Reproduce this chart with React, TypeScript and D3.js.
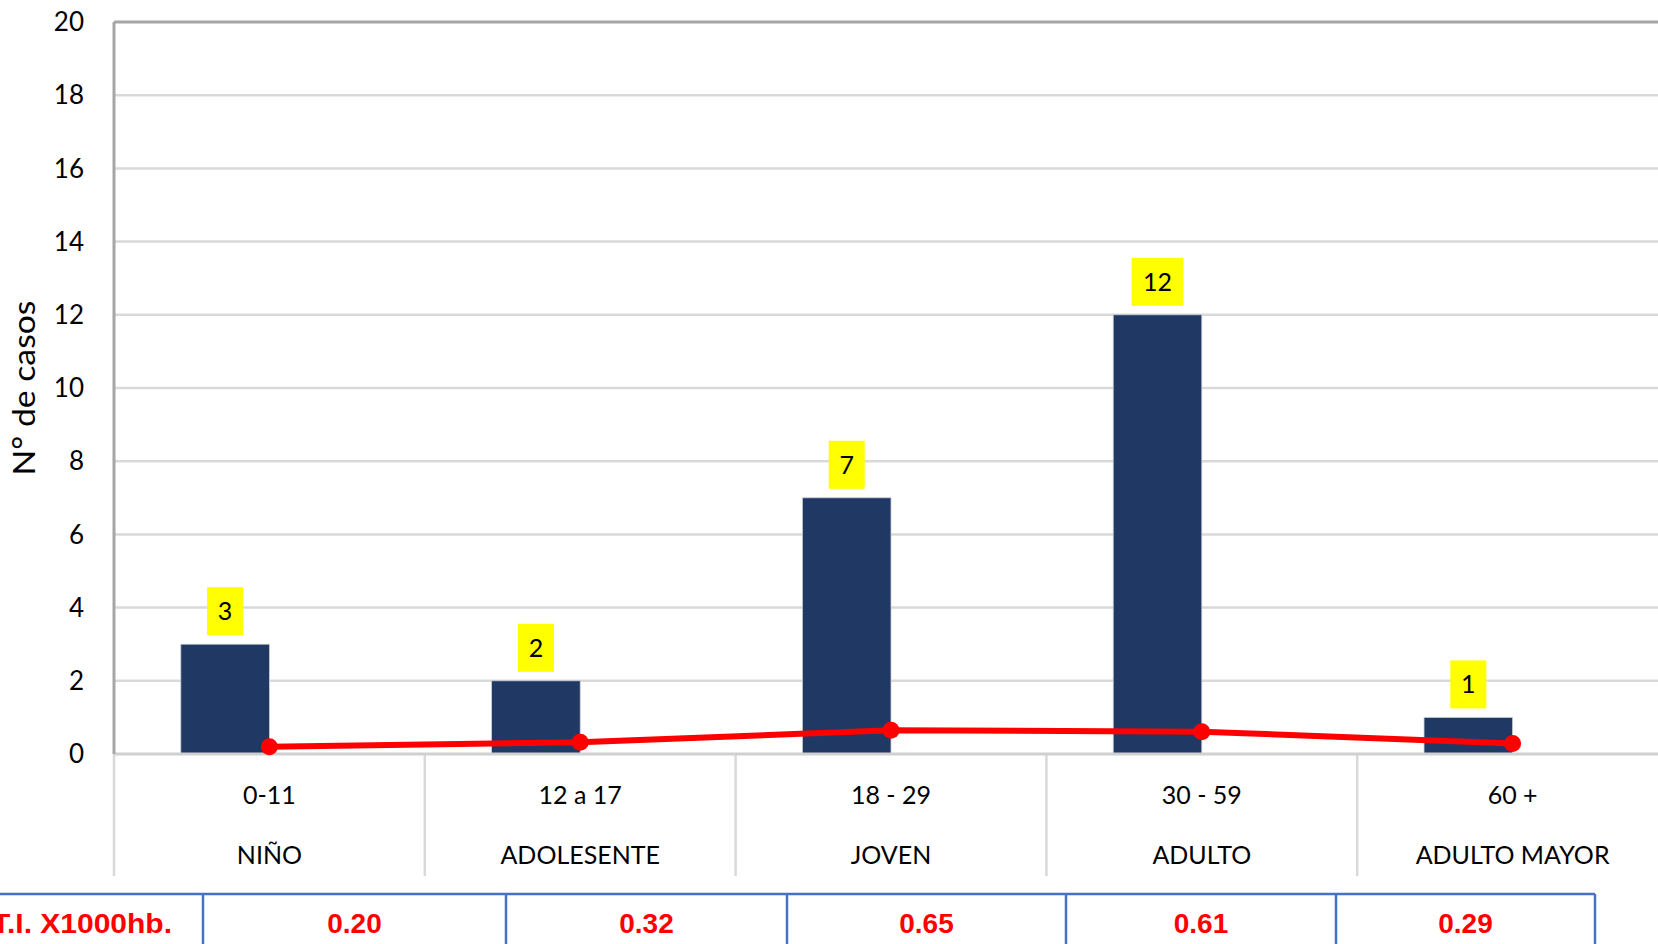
import React from "react";
import * as d3 from "d3";

const ageRanges = ["0-11", "12 a 17", "18 - 29", "30 - 59", "60 +"];
const groups = ["NIÑO", "ADOLESENTE", "JOVEN", "ADULTO", "ADULTO MAYOR"];
const cases = [3, 2, 7, 12, 1];
const rates = [0.2, 0.32, 0.65, 0.61, 0.29];
const rateLabels = ["0.20", "0.32", "0.65", "0.61", "0.29"];
const yTicks = [0, 2, 4, 6, 8, 10, 12, 14, 16, 18, 20];
const tableCols = [203, 506, 787, 1066, 1336, 1595];

const W = 1658;
const H = 944;
const left = 114;
const right = 1668;
const top = 22;
const bottom = 754;
const font = "Lato, 'Open Sans', sans-serif";

export default function App() {
  const x = d3.scaleBand<string>().domain(ageRanges).range([left, right]).padding(0);
  const y = d3.scaleLinear().domain([0, 20]).range([bottom, top]);
  const bw = x.bandwidth();
  const barW = bw * 0.285;
  const cx = (i: number) => (x(ageRanges[i]) as number) + bw / 2;
  const line = d3
    .line<number>()
    .x((_, i) => cx(i))
    .y((d) => y(d));

  return (
    <svg
      width={W}
      height={H}
      style={{ position: "absolute", left: 0, top: 0, background: "#fff" }}
      fontFamily={font}
    >
      {/* gridlines */}
      {yTicks.slice(1, -1).map((t) => (
        <line key={t} x1={left} x2={right} y1={y(t)} y2={y(t)} stroke="#d9d9d9" strokeWidth={2.5} />
      ))}
      <line x1={left} x2={right} y1={y(20)} y2={y(20)} stroke="#a6a6a6" strokeWidth={3} />
      {/* y ticks */}
      {yTicks.map((t) => (
        <text key={t} x={84} y={y(t)} dy="0.35em" textAnchor="end" fontSize={26} fill="#000">
          {t}
        </text>
      ))}
      <text
        transform={`translate(35,388) rotate(-90)`}
        textAnchor="middle"
        fontSize={30}
        textLength={175}
        lengthAdjust="spacingAndGlyphs"
        fill="#000"
      >
        N° de casos
      </text>
      {/* category separators */}
      {[...ageRanges.map((c) => x(c) as number), right].map((sx, i) => (
        <line key={i} x1={sx} x2={sx} y1={bottom} y2={876} stroke="#d9d9d9" strokeWidth={2.5} />
      ))}
      {/* bars */}
      {cases.map((v, i) => (
        <rect
          key={i}
          x={cx(i) - barW}
          y={y(v)}
          width={barW}
          height={bottom - y(v)}
          fill="#203864"
          stroke="#c9ccd3"
          strokeWidth={0.8}
        />
      ))}
      {/* axes */}
      <line x1={left} x2={right} y1={bottom} y2={bottom} stroke="#d0d0d0" strokeWidth={3} />
      <line x1={left} x2={left} y1={top} y2={bottom} stroke="#a6a6a6" strokeWidth={3} />
      {/* bar labels */}
      {cases.map((v, i) => {
        const bx = cx(i) - barW / 2;
        const w = String(v).length > 1 ? 52 : 36;
        return (
          <g key={i}>
            <rect x={bx - w / 2} y={y(v) - 57} width={w} height={48} fill="#ffff00" />
            <text x={bx} y={y(v) - 33} dy="0.36em" textAnchor="middle" fontSize={25} fill="#000">
              {v}
            </text>
          </g>
        );
      })}
      {/* rate line */}
      <path d={line(rates) || ""} fill="none" stroke="#ff0000" strokeWidth={6} strokeLinejoin="round" />
      {rates.map((r, i) => (
        <circle key={i} cx={cx(i)} cy={y(r)} r={8.5} fill="#ff0000" />
      ))}
      {/* category labels */}
      {ageRanges.map((c, i) => (
        <text key={c} x={cx(i)} y={795} dy="0.36em" textAnchor="middle" fontSize={25} fill="#000">
          {c}
        </text>
      ))}
      {groups.map((g, i) => (
        <text key={g} x={cx(i)} y={855} dy="0.36em" textAnchor="middle" fontSize={25} fill="#000">
          {g}
        </text>
      ))}
      {/* table */}
      <line x1={0} x2={tableCols[tableCols.length - 1]} y1={894} y2={894} stroke="#4472c4" strokeWidth={2.5} />
      {tableCols.map((tx, i) => (
        <line key={i} x1={tx} x2={tx} y1={894} y2={H} stroke="#4472c4" strokeWidth={2.5} />
      ))}
      <text
        x={172}
        y={923}
        dy="0.36em"
        textAnchor="end"
        fontSize={28}
        fontWeight="bold"
        fill="#ff0000"
        fontFamily="'Liberation Sans', Arial, sans-serif"
        textLength={180}
        lengthAdjust="spacingAndGlyphs"
      >
        T.I. X1000hb.
      </text>
      {rateLabels.map((r, i) => (
        <text
          key={i}
          x={(tableCols[i] + tableCols[i + 1]) / 2}
          y={923}
          dy="0.36em"
          textAnchor="middle"
          fontSize={28}
          fontWeight="bold"
          fill="#ff0000"
          fontFamily="'Liberation Sans', Arial, sans-serif"
        >
          {r}
        </text>
      ))}
    </svg>
  );
}
